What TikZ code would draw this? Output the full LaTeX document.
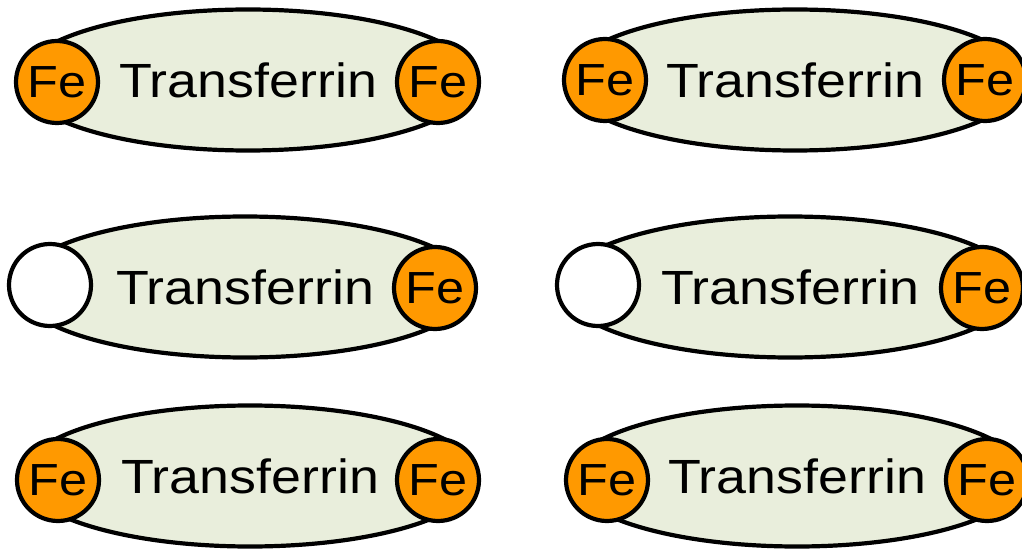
\documentclass[tikz,border=0pt]{standalone}
\usepackage{fontspec}
\setmainfont{Liberation Sans}[FakeStretch=1.12]
\usetikzlibrary{shapes.geometric}
\definecolor{tfill}{RGB}{233,238,220}
\definecolor{feorange}{RGB}{255,153,0}
\tikzset{
  tf/.style={ellipse, draw=black, line width=4.2pt, fill=tfill, minimum width=456pt, minimum height=141pt, inner sep=0pt, font=\fontsize{48}{48}\selectfont},
  fe/.style={circle, draw=black, line width=4.2pt, fill=feorange, minimum size=82pt, inner sep=0pt, font=\fontsize{45}{45}\selectfont},
  empty/.style={circle, draw=black, line width=4.2pt, fill=white, minimum size=82pt, inner sep=0pt}
}
\begin{document}
\begin{tikzpicture}[x=1pt,y=-1pt]
\useasboundingbox (0,0) rectangle (1022,553);
% row 1
\node[tf] (t1) at (248,80) {Transferrin};
\node[fe] (a1) at (57,82) {Fe};
\node[fe] (b1) at (438,82) {Fe};
\node[tf] (t2) at (795,80) {Transferrin};
\node[fe] (a2) at (605,80) {Fe};
\node[fe] (b2) at (985,80) {Fe};
% row 2
\node[tf] (t3) at (245,287) {Transferrin};
\node[empty] (a3) at (50,285) {};
\node[fe] (b3) at (435,288) {Fe};
\node[tf] (t4) at (790,287) {Transferrin};
\node[empty] (a4) at (598,285) {};
\node[fe] (b4) at (982,288) {Fe};
% row 3
\node[tf] (t5) at (250,476) {Transferrin};
\node[fe] (a5) at (58,480) {Fe};
\node[fe] (b5) at (438,480) {Fe};
\node[tf] (t6) at (797,476) {Transferrin};
\node[fe] (a6) at (607,480) {Fe};
\node[fe] (b6) at (987,480) {Fe};
\end{tikzpicture}
\end{document}
